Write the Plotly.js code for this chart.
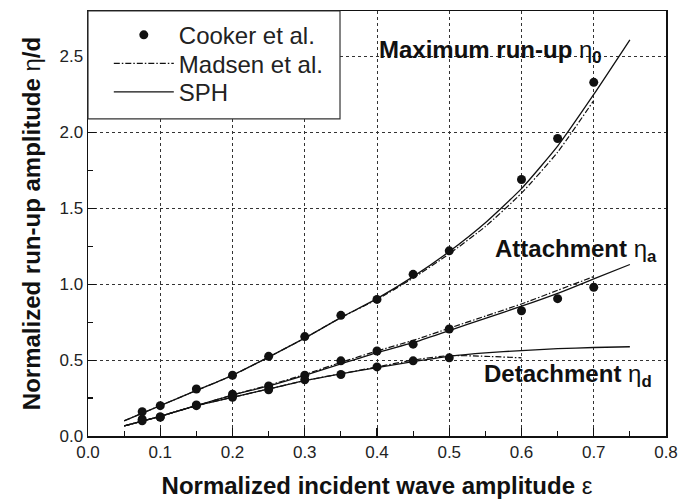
<!DOCTYPE html>
<html>
<head>
<meta charset="utf-8">
<script src="https://cdn.plot.ly/plotly-3.0.1.min.js"></script>
<style>html,body{margin:0;padding:0;background:#fff;}#chart{width:699px;height:499px;}</style>
</head>
<body>
<div id="chart"></div>
<script>
// Cooker et al. (experimental points)
const cookerX = [0.075, 0.1, 0.15, 0.2, 0.25, 0.3, 0.35, 0.4, 0.45, 0.5, 0.6, 0.65, 0.7];
const cookerMax = [0.16, 0.20, 0.31, 0.40, 0.525, 0.655, 0.795, 0.90, 1.065, 1.22, 1.69, 1.96, 2.33];
const cookerAttX = [0.075, 0.1, 0.15, 0.2, 0.25, 0.3, 0.35, 0.4, 0.45, 0.5, 0.6, 0.65, 0.7];
const cookerAtt = [0.11, 0.125, 0.205, 0.275, 0.33, 0.40, 0.495, 0.56, 0.605, 0.705, 0.825, 0.905, 0.98];
const cookerDetX = [0.075, 0.1, 0.15, 0.2, 0.25, 0.3, 0.35, 0.4, 0.45, 0.5];
const cookerDet = [0.10, 0.125, 0.20, 0.255, 0.305, 0.37, 0.405, 0.455, 0.495, 0.515];

// Madsen et al.
const madsenX = [0.05, 0.1, 0.15, 0.2, 0.25, 0.3, 0.35, 0.4, 0.45, 0.5, 0.55, 0.6, 0.65, 0.7];
const madsenMax = [0.10, 0.20, 0.30, 0.40, 0.52, 0.645, 0.78, 0.90, 1.04, 1.20, 1.38, 1.60, 1.87, 2.21];
const madsenAtt = [0.066, 0.13, 0.20, 0.27, 0.335, 0.405, 0.485, 0.56, 0.63, 0.71, 0.79, 0.87, 0.96, 1.05];
const madsenDetX = [0.05, 0.1, 0.15, 0.2, 0.25, 0.3, 0.35, 0.4, 0.45, 0.5, 0.55, 0.6];
const madsenDet = [0.066, 0.13, 0.20, 0.255, 0.31, 0.365, 0.41, 0.455, 0.50, 0.53, 0.525, 0.515];

// SPH
const sphX = [0.05, 0.1, 0.15, 0.2, 0.25, 0.3, 0.35, 0.4, 0.45, 0.5, 0.55, 0.6, 0.65, 0.7, 0.75];
const sphMax = [0.10, 0.20, 0.30, 0.40, 0.52, 0.645, 0.78, 0.905, 1.05, 1.215, 1.405, 1.63, 1.91, 2.25, 2.61];
const sphAtt = [0.066, 0.13, 0.20, 0.27, 0.33, 0.40, 0.475, 0.55, 0.615, 0.695, 0.775, 0.855, 0.94, 1.035, 1.13];
const sphDet = [0.066, 0.13, 0.20, 0.255, 0.31, 0.365, 0.41, 0.45, 0.49, 0.525, 0.548, 0.563, 0.575, 0.583, 0.588];

const xTicks = [0.0, 0.1, 0.2, 0.3, 0.4, 0.5, 0.6, 0.7, 0.8];
const yTicks = [0.0, 0.5, 1.0, 1.5, 2.0, 2.5];

const FONT = 'Arial, "Liberation Sans", sans-serif';
const sphLine = {color: '#111', width: 1.3, dash: 'solid', shape: 'spline', smoothing: 0.5};
const madLine = {color: '#111', width: 1.2, dash: '6px,2px,1.5px,2px', shape: 'spline', smoothing: 0.5};
const dot = {color: '#111', size: 9};

const traces = [
  {x: sphX, y: sphMax, mode: 'lines', line: sphLine, name: 'SPH', legend: 'legend3', showlegend: true},
  {x: sphX, y: sphAtt, mode: 'lines', line: sphLine, showlegend: false},
  {x: sphX, y: sphDet, mode: 'lines', line: sphLine, showlegend: false},
  {x: madsenX, y: madsenMax, mode: 'lines', line: madLine, name: 'Madsen et al.', legend: 'legend2', showlegend: true},
  {x: madsenX, y: madsenAtt, mode: 'lines', line: madLine, showlegend: false},
  {x: madsenDetX, y: madsenDet, mode: 'lines', line: madLine, showlegend: false},
  {x: cookerX, y: cookerMax, mode: 'markers', marker: dot, name: 'Cooker et al.', legend: 'legend', showlegend: true},
  {x: cookerAttX, y: cookerAtt, mode: 'markers', marker: dot, showlegend: false},
  {x: cookerDetX, y: cookerDet, mode: 'markers', marker: dot, showlegend: false}
];

const axisCommon = {
  showline: true, linecolor: '#111', linewidth: 1.5, mirror: true,
  ticks: 'inside', ticklen: 8, tickwidth: 1.2, tickcolor: '#111',
  showgrid: true, gridcolor: '#333', gridwidth: 1, griddash: 'dot',
  zeroline: false,
  tickfont: {family: FONT, size: 17, color: '#222'}
};

function legendAt(y) {
  return {
    x: 0.036, y: y, xanchor: 'left', yanchor: 'middle',
    bgcolor: 'rgba(0,0,0,0)', borderwidth: 0,
    font: {family: FONT, size: 24, color: '#222'},
    itemwidth: 60
  };
}

const layout = {
  width: 699, height: 499,
  margin: {l: 88, r: 33, t: 11, b: 63},
  paper_bgcolor: '#fff', plot_bgcolor: '#fff',
  font: {family: FONT, color: '#111'},
  xaxis: Object.assign({}, axisCommon, {
    range: [0, 0.8], tickvals: xTicks, ticktext: xTicks.map(v => v.toFixed(1)),
    minor: {dtick: 0.05, tick0: 0, ticks: 'inside', ticklen: 5, tickwidth: 1.2, tickcolor: '#111', showgrid: false},
    title: {text: '<b>Normalized incident wave amplitude</b> ε', font: {family: FONT, size: 24, color: '#111'}, standoff: 16}
  }),
  yaxis: Object.assign({}, axisCommon, {
    range: [0, 2.8], tickvals: yTicks, ticktext: yTicks.map(v => v.toFixed(1)),
    minor: {dtick: 0.25, tick0: 0, ticks: 'inside', ticklen: 5, tickwidth: 1.2, tickcolor: '#111', showgrid: false},
    title: {text: '<b>Normalized run-up amplitude</b> η<b>/d</b>', font: {family: FONT, size: 24, color: '#111'}, standoff: 12}
  }),
  legend: legendAt(0.943),
  legend2: legendAt(0.876),
  legend3: legendAt(0.809),
  shapes: [
    {type: 'rect', xref: 'paper', yref: 'paper', x0: 0, x1: 0.436, y0: 0.746, y1: 1,
     line: {color: '#333', width: 1.2}, fillcolor: '#fff', layer: 'above'}
  ],
  annotations: [
    {x: 0.40, y: 2.53, xref: 'x', yref: 'y', xanchor: 'left', yanchor: 'middle', showarrow: false,
     text: '<b>Maximum run-up</b> η<sub><b>0</b></sub>', font: {family: FONT, size: 24, color: '#111'}},
    {x: 0.56, y: 1.22, xref: 'x', yref: 'y', xanchor: 'left', yanchor: 'middle', showarrow: false,
     text: '<b>Attachment</b> η<sub><b>a</b></sub>', font: {family: FONT, size: 24, color: '#111'}},
    {x: 0.545, y: 0.40, xref: 'x', yref: 'y', xanchor: 'left', yanchor: 'middle', showarrow: false,
     text: '<b>Detachment</b> η<sub><b>d</b></sub>', font: {family: FONT, size: 24, color: '#111'}}
  ]
};

Plotly.newPlot('chart', traces, layout, {displayModeBar: false, staticPlot: true});
</script>
</body>
</html>
